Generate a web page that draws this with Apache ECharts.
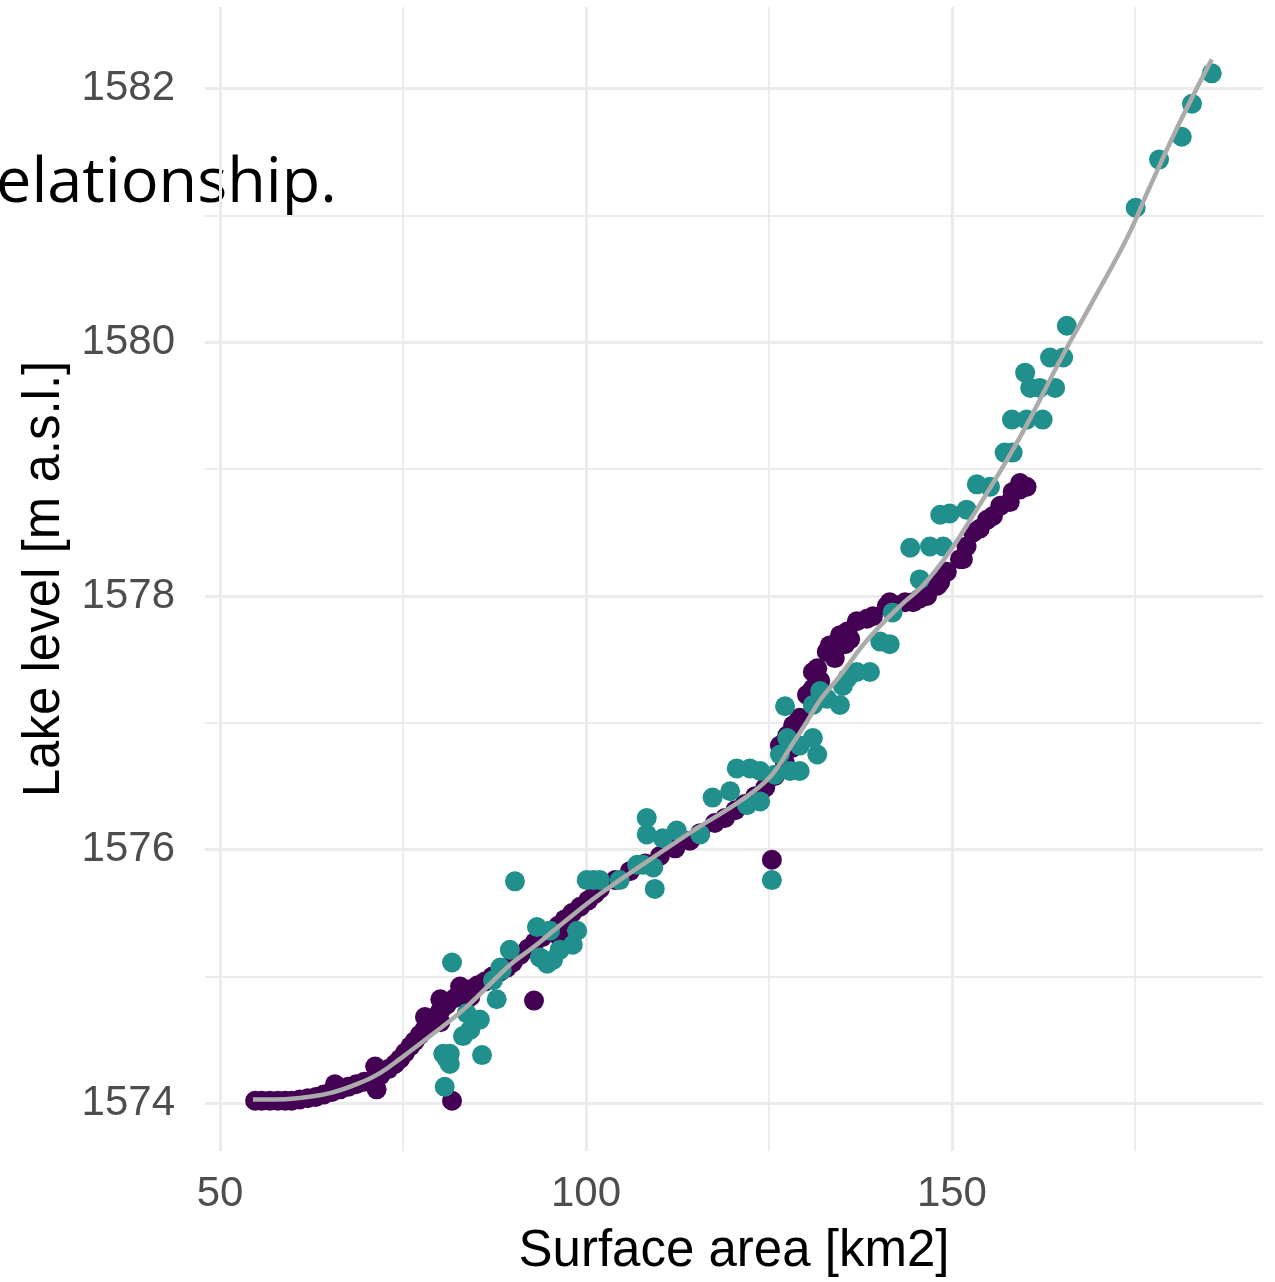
<!DOCTYPE html>
<html><head><meta charset="utf-8">
<script src="https://cdn.jsdelivr.net/npm/echarts@6/dist/echarts.min.js"></script>
<style>html,body{margin:0;padding:0;background:#fff}#c{width:1275px;height:1282px}</style>
</head><body><div id="c"></div>
<script>
// Axis ticks
const xTicks = [50, 100, 150];
const xMinorTicks = [75, 125, 175];
const yTicks = [1574, 1576, 1578, 1580, 1582];
const yMinorTicks = [1575, 1577, 1579, 1581];

// Group 1 (dark purple): [surface area km2, lake level m a.s.l.]
const groupA = [
[54.8,1574.02],[55.7,1574.02],[56.8,1574.02],[57.9,1574.02],[58.9,1574.02],[59.8,1574.02],[60.9,1574.03],[62.0,1574.04],[63.1,1574.05],[64.2,1574.07],[65.3,1574.09],[65.7,1574.15],[66.4,1574.11],[67.5,1574.13],[68.6,1574.15],[69.7,1574.17],[70.8,1574.18],[71.4,1574.11],[71.2,1574.29],[71.9,1574.22],[73.0,1574.27],[73.9,1574.31],[74.6,1574.35],[75.3,1574.40],[76.0,1574.45],[76.6,1574.49],[77.3,1574.54],[78.0,1574.59],[78.0,1574.68],[78.7,1574.64],[79.4,1574.68],[80.1,1574.73],[80.1,1574.82],[80.1,1574.64],[81.0,1574.78],[82.1,1574.83],[82.8,1574.92],[83.1,1574.86],[84.2,1574.90],[84.2,1574.84],[85.2,1574.93],[86.2,1574.96],[87.2,1575.00],[88.3,1575.04],[89.2,1575.07],[90.0,1575.11],[91.0,1575.17],[92.1,1575.22],[93.0,1575.27],[94.0,1575.31],[95.1,1575.36],[96.2,1575.40],[96.4,1575.31],[97.1,1575.45],[98.1,1575.50],[99.2,1575.55],[100.3,1575.60],[101.2,1575.65],[101.9,1575.69],
[104.0,1575.76],[106.0,1575.83],[108.1,1575.89],[110.1,1575.95],[112.2,1576.01],[114.2,1576.07],[115.6,1576.13],[117.6,1576.21],[119.0,1576.25],[120.4,1576.31],[121.7,1576.36],[123.1,1576.42],[124.5,1576.49],[125.8,1576.58],[126.5,1576.82],[127.2,1576.68],[127.5,1576.90],[128.1,1576.80],[128.3,1576.98],[129.2,1577.04],[130.2,1577.22],[131.0,1577.27],[131.0,1577.40],[131.6,1577.43],[132.0,1577.33],[132.9,1577.56],[133.3,1577.61],[134.0,1577.51],[134.7,1577.69],[135.4,1577.62],[135.7,1577.72],[136.1,1577.66],[137.0,1577.80],[138.4,1577.82],[139.2,1577.84],[141.1,1577.92],[141.5,1577.95],[143.6,1577.95],[144.7,1577.95],[145.6,1577.98],[146.6,1578.00],[148.0,1578.08],[148.4,1578.11],[149.3,1578.19],[151.1,1578.29],[151.5,1578.29],[152.0,1578.39],[152.9,1578.50],[153.8,1578.53],[154.8,1578.60],[155.6,1578.63],[156.6,1578.71],[157.9,1578.74],[158.3,1578.82],[159.3,1578.84],[160.2,1578.86],[159.3,1578.89],
[81.7,1574.02],[92.9,1574.81],[125.4,1575.92]
];

// Group 2 (teal)
const groupB = [
[185.5,1582.12],[182.8,1581.88],[181.4,1581.62],[178.3,1581.44],[175.1,1581.06],
[165.7,1580.13],[163.4,1579.88],[165.2,1579.88],[160.0,1579.76],[160.7,1579.64],[162.0,1579.64],[164.1,1579.64],[158.2,1579.39],[160.2,1579.39],[162.4,1579.39],[157.2,1579.13],[158.3,1579.13],
[153.4,1578.88],[155.2,1578.86],
[148.4,1578.64],[149.7,1578.65],[152.0,1578.68],
[144.3,1578.38],[147.0,1578.39],[148.8,1578.39],
[145.6,1578.13],
[141.9,1577.87],
[140.2,1577.64],[141.5,1577.62],
[137.0,1577.40],[138.8,1577.40],[135.7,1577.35],[135.1,1577.29],[132.0,1577.25],[132.9,1577.19],[134.7,1577.14],[131.0,1577.14],[127.2,1577.13],
[127.5,1576.88],[129.2,1576.82],[131.0,1576.88],[131.6,1576.75],[126.5,1576.75],[127.9,1576.62],[129.2,1576.62],
[120.6,1576.64],[122.4,1576.64],[123.8,1576.62],[125.8,1576.59],
[117.3,1576.41],[119.7,1576.46],[122.0,1576.35],[123.8,1576.38],
[108.3,1576.25],[108.3,1576.12],[110.5,1576.09],[112.4,1576.15],[115.6,1576.12],
[107.0,1575.88],[109.2,1575.86],[107.8,1575.88],
[100.1,1575.76],[101.0,1575.76],[101.9,1575.76],[104.6,1575.76],[109.4,1575.69],
[125.4,1575.76],[90.3,1575.75],
[93.3,1575.39],[95.1,1575.36],[98.8,1575.36],[98.2,1575.25],[93.7,1575.15],[95.5,1575.13],[96.4,1575.21],[89.6,1575.21],[94.7,1575.10],
[88.3,1575.07],[87.3,1574.97],[88.5,1575.05],[87.8,1574.82],
[83.7,1574.71],[85.5,1574.66],[84.2,1574.58],[83.2,1574.53],
[81.4,1574.39],[80.5,1574.39],[81.0,1574.35],[81.4,1574.31],[85.8,1574.38],
[81.7,1575.11],[80.7,1574.13]
];

// Smoothed fit (grey curve)
const smoothFit = [
[54.5,1574.03],[57.5,1574.03],[60.5,1574.04],[65.0,1574.08],[69.5,1574.17],[71.9,1574.24],[74.6,1574.35],[78.7,1574.53],[83.5,1574.75],[89.6,1575.09],[92.8,1575.23],[96.4,1575.40],[101.9,1575.65],[108.7,1575.92],[115.2,1576.17],[121.0,1576.38],[125.1,1576.57],[128.3,1576.84],[130.2,1577.01],[132.0,1577.18],[134.7,1577.37],[138.4,1577.65],[142.9,1577.92],[146.0,1578.08],[149.7,1578.35],[153.8,1578.72],[157.5,1579.07],[160.7,1579.40],[164.8,1579.86],[169.3,1580.33],[173.9,1580.82],[177.0,1581.22],[181.1,1581.73],[185.5,1582.23]
];

const FONT = 'Liberation Sans, Arial, Helvetica, sans-serif';
const chart = echarts.init(document.getElementById('c'), null, {renderer: 'canvas'});

const gridLines = [];
xTicks.forEach(v => gridLines.push({xAxis: v, lineStyle: {color: '#EBEBEB', width: 3, type: 'solid'}}));
xMinorTicks.forEach(v => gridLines.push({xAxis: v, lineStyle: {color: '#EBEBEB', width: 1.8, type: 'solid'}}));
yTicks.forEach(v => gridLines.push({yAxis: v, lineStyle: {color: '#EBEBEB', width: 3, type: 'solid'}}));
yMinorTicks.forEach(v => gridLines.push({yAxis: v, lineStyle: {color: '#EBEBEB', width: 1.8, type: 'solid'}}));

chart.setOption({
  animation: false,
  backgroundColor: '#ffffff',
  graphic: [{
    type: 'text', left: -4, top: 153, z: -10, silent: true,
    style: {text: 'elationship.', font: '400 63px "Open Sans", Lato, sans-serif', fill: '#000000'}
  }],
  grid: {left: 205, right: 12, top: 7, bottom: 123},
  xAxis: {
    type: 'value', min: 47.95, max: 192.5,
    axisLine: {show: false}, axisTick: {show: false}, splitLine: {show: false},
    axisLabel: {customValues: xTicks, fontSize: 42, color: '#4D4D4D', fontFamily: FONT, margin: 22,
                formatter: v => String(v)},
    name: 'Surface area [km2]', nameLocation: 'middle', nameGap: 75,
    nameTextStyle: {fontSize: 51, color: '#000000', fontFamily: FONT}
  },
  yAxis: {
    type: 'value', min: 1573.624, max: 1582.643,
    axisLine: {show: false}, axisTick: {show: false}, splitLine: {show: false},
    axisLabel: {customValues: yTicks, fontSize: 42, color: '#4D4D4D', fontFamily: FONT, margin: 30,
                formatter: v => String(Math.round(v))},
    name: 'Lake level [m a.s.l.]', nameLocation: 'middle', nameGap: 133, nameRotate: 90,
    nameTextStyle: {fontSize: 51, color: '#000000', fontFamily: FONT}
  },
  series: [
    {type: 'line', data: [], z: 0, silent: true,
     markLine: {z: 0, silent: true, symbol: ['none', 'none'], label: {show: false}, animation: false, data: gridLines}},
    {type: 'scatter', data: groupA, symbol: 'circle', symbolSize: 20, z: 2,
     itemStyle: {color: '#440154', opacity: 1}},
    {type: 'scatter', data: groupB, symbol: 'circle', symbolSize: 20, z: 3,
     itemStyle: {color: '#21908C', opacity: 1}},
    {type: 'line', data: smoothFit, smooth: 0.4, showSymbol: false, symbol: 'none', z: 5,
     lineStyle: {color: '#ABABAB', width: 4.5}}
  ]
});
</script>
</body></html>
